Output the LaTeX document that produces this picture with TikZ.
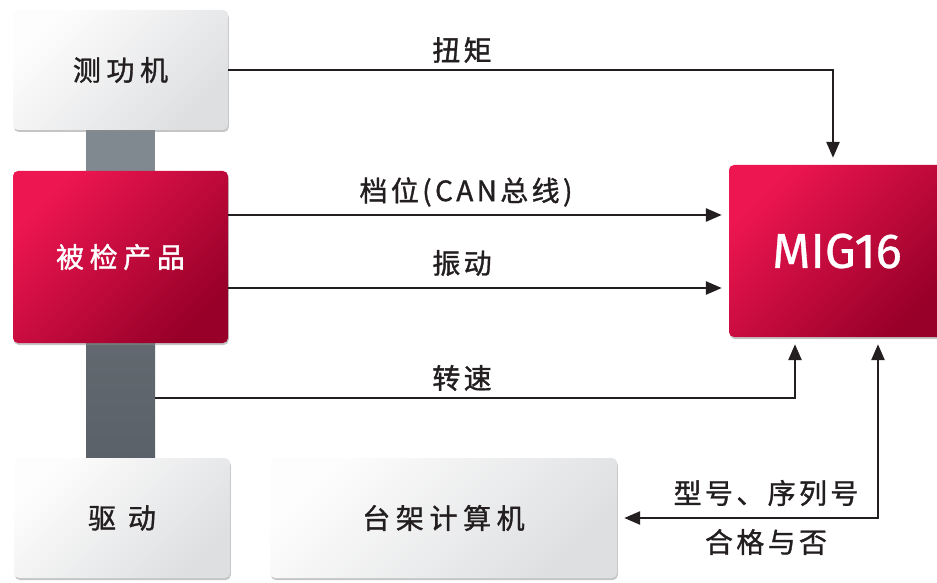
\documentclass[tikz,border=0pt]{standalone}
\usepackage{fontspec}
\setmainfont{Fira Sans}
\newfontfamily\cjk[LetterSpace=20,FakeBold=1.2]{Noto Sans CJK SC}
\newfontfamily\cjklab[LetterSpace=12,FakeBold=1.2]{Noto Sans CJK SC}
\newfontfamily\migfont[FakeBold=0.6]{Fira Sans}
\usetikzlibrary{arrows.meta,shadows}
\definecolor{ink}{HTML}{231F20}
\definecolor{redA}{HTML}{EE1651}
\definecolor{redB}{HTML}{980029}
\definecolor{greyA}{HTML}{FDFDFD}
\definecolor{greyB}{HTML}{DEDFE1}
\definecolor{shaftA}{HTML}{80898F}
\definecolor{shaftB}{HTML}{5A6168}
\begin{document}
\begin{tikzpicture}[x=1pt,y=1pt,
  box/.style={rectangle, rounded corners=5pt, inner sep=0pt,
    drop shadow={shadow xshift=0.8pt, shadow yshift=-2pt, fill=black!45, opacity=0.5}},
  lightbox/.style={box, top color=greyA, bottom color=greyB, shading angle=45,
    text=ink, font=\cjk\fontsize{28}{32}\selectfont},
  redbox/.style={box, top color=redA, bottom color=redB, shading angle=45,
    text=white, font=\cjk\fontsize{28}{32}\selectfont},
  lab/.style={text=ink, font=\cjklab\fontsize{28}{32}\selectfont, inner sep=0pt},
  conn/.style={draw=ink, line width=2.6pt, -{Triangle[length=16pt,width=13pt]}, shorten >=7pt},
  conn2/.style={draw=ink, line width=2.6pt, {Triangle[length=16pt,width=13pt]}-{Triangle[length=16pt,width=13pt]}, shorten >=7pt, shorten <=7pt}
]
\useasboundingbox (0,0) rectangle (937,582);
% shafts
\fill[shaftA] (86,408) rectangle (155,454);
\shade[top color=shaftB!80!shaftA, bottom color=shaftB] (86,120) rectangle (155,243);
% boxes
\node[lightbox, minimum width=215pt, minimum height=120pt] (dyno) at (120.5,512) {测功机};
\node[redbox, minimum width=215pt, minimum height=172pt] (dut) at (120.5,325) {被检产品};
\node[lightbox, minimum width=216pt, minimum height=120pt] (drive) at (122,64) {驱 动};
\node[lightbox, minimum width=347pt, minimum height=120pt] (pc) at (443.5,64) {台架计算机};
\node[redbox, minimum width=216pt, minimum height=172pt, font=\migfont\fontsize{49}{52}\selectfont] (mig) at (837,331) {MIG16};
% connector anchors
\coordinate (sp) at (155,184);
\coordinate (vin) at (795,184);
\coordinate (rr) at (878,64);
% connectors
\draw[conn] (dyno.east) -| ([xshift=-4pt]mig.north);
\draw[conn] ([yshift=42pt]dut.east) -- ([yshift=36pt]mig.west);
\draw[conn] ([yshift=-31pt]dut.east) -- ([yshift=-37pt]mig.west);
\draw[conn] (sp) -| (vin |- mig.south);
\draw[conn2] (pc.east) -| (rr |- mig.south);
% labels
\node[lab] (l1) at (462,532) {扭矩};
\node[lab] (l2) at (466,390) {档位(CAN总线)};
\node[lab] (l3) at (462,319) {振动};
\node[lab] (l4) at (462,204) {转速};
\node[lab] (l5) at (766,89) {型号、序列号};
\node[lab] (l6) at (766,40) {合格与否};
\end{tikzpicture}
\end{document}
